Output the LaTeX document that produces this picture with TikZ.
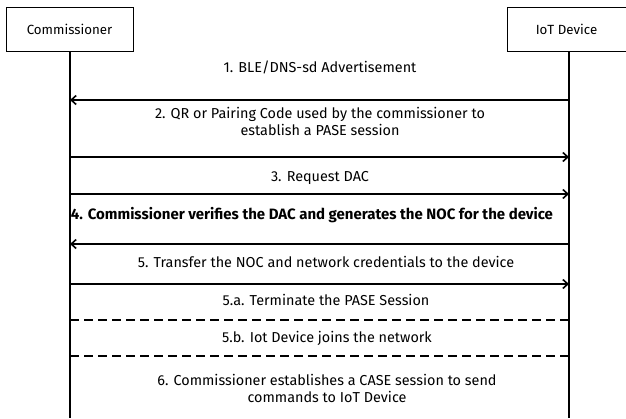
\documentclass[tikz,border=0pt]{standalone}
\usepackage{fontspec}
\setmainfont{Fira Sans}
\usetikzlibrary{arrows.meta}
\begin{document}
\begin{tikzpicture}[x=1pt,y=-1pt,
  actor/.style={draw,line width=0.9pt,minimum height=44pt,inner sep=0pt,font=\fontsize{13.3}{15}\selectfont},
  life/.style={line width=1.8pt},
  msg/.style={line width=2pt,-{Straight Barb[length=5pt,width=9pt,line width=1.6pt]}},
  dmsg/.style={line width=2pt,dash pattern=on 9pt off 5pt},
  lbl/.style={font=\fontsize{14.4}{17}\selectfont,align=center,inner sep=0pt},
  blbl/.style={lbl,font=\fontsize{15}{17}\selectfont\bfseries}]
\useasboundingbox (0,0) rectangle (626,418);
\node[actor,minimum width=127pt] (comm) at (69.5,29) {Commissioner};
\node[actor,minimum width=119pt] (iot) at (566.5,29) {IoT Device};
\coordinate (cb) at (70,418);
\coordinate (ib) at (569,418);
\draw[life] (comm.south -| cb) -- (cb);
\draw[life] (iot.south -| ib) -- (ib);
% y levels
\coordinate (c1) at (70,100); \coordinate (i1) at (569,100);
\coordinate (c2) at (70,157); \coordinate (i2) at (569,157);
\coordinate (c3) at (70,194); \coordinate (i3) at (569,194);
\coordinate (c4) at (70,244); \coordinate (i4) at (569,244);
\coordinate (c5) at (70,284); \coordinate (i5) at (569,284);
\coordinate (c6) at (70,320); \coordinate (i6) at (569,320);
\coordinate (c7) at (70,356); \coordinate (i7) at (569,356);
\node[lbl] (l1) at (320,67) {1. BLE/DNS-sd Advertisement};
\node[lbl] (l2) at (320,121.5) {2. QR or Pairing Code used by the commissioner to\\establish a PASE session};
\node[lbl] (l3) at (320,178) {3. Request DAC};
\node[blbl] (l4) at (312,215) {4. Commissioner verifies the DAC and generates the NOC for the device};
\node[lbl] (l5) at (326,262) {5. Transfer the NOC and network credentials to the device};
\node[lbl] (l6) at (326,300) {5.a. Terminate the PASE Session};
\node[lbl] (l7) at (327,338) {5.b. Iot Device joins the network};
\node[lbl] (l8) at (327,388.5) {6. Commissioner establishes a CASE session to send\\commands to IoT Device};
\draw[msg] (i1) -- (c1);
\draw[msg] (c2) -- (i2);
\draw[msg] (c3) -- (i3);
\draw[msg] (i4) -- (c4);
\draw[msg] (c5) -- (i5);
\draw[dmsg] (c6) -- (i6);
\draw[dmsg] (c7) -- (i7);
\end{tikzpicture}
\end{document}
